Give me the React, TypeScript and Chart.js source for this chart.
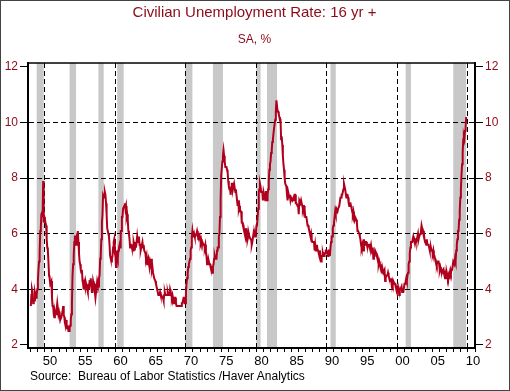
import React, { useEffect, useRef } from "react";
import { Chart, registerables } from "chart.js";

Chart.register(...registerables);

// Monthly civilian unemployment rate, 16 yr +, SA, % (Jan 1948 - Oct 2009)
const startYear = 1948;
const rate1940s = [
  3.4, 3.8, 4.0, 3.9, 3.5, 3.6, 3.6, 3.9, 3.8, 3.7, 3.8, 4.0,
  4.3, 4.7, 5.0, 5.3, 6.1, 6.2, 6.7, 6.8, 6.6, 7.9, 6.4, 6.6,
];
const rate1950s = [
  6.5, 6.4, 6.3, 5.8, 5.5, 5.4, 5.0, 4.5, 4.4, 4.2, 4.2, 4.3,
  3.7, 3.4, 3.4, 3.1, 3.0, 3.2, 3.1, 3.1, 3.3, 3.5, 3.5, 3.1,
  3.2, 3.1, 2.9, 2.9, 3.0, 3.0, 3.2, 3.4, 3.1, 3.0, 2.8, 2.7,
  2.9, 2.6, 2.6, 2.7, 2.5, 2.5, 2.6, 2.7, 2.9, 3.1, 3.5, 4.5,
  4.9, 5.2, 5.7, 5.9, 5.9, 5.6, 5.8, 6.0, 6.1, 5.7, 5.3, 5.0,
  4.9, 4.7, 4.6, 4.7, 4.3, 4.2, 4.0, 4.2, 4.1, 4.3, 4.2, 4.2,
  4.0, 3.9, 4.2, 4.0, 4.3, 4.3, 4.4, 4.1, 3.9, 3.9, 4.3, 4.2,
  4.2, 3.9, 3.7, 3.9, 4.1, 4.3, 4.2, 4.1, 4.4, 4.5, 5.1, 5.2,
  5.8, 6.4, 6.7, 7.4, 7.4, 7.3, 7.5, 7.4, 7.1, 6.7, 6.2, 6.2,
  6.0, 5.9, 5.6, 5.2, 5.1, 5.0, 5.1, 5.2, 5.5, 5.7, 5.8, 5.3,
];
const rate1960s = [
  5.2, 4.8, 5.4, 5.2, 5.1, 5.4, 5.5, 5.6, 5.5, 6.1, 6.1, 6.6,
  6.6, 6.9, 6.9, 7.0, 7.1, 6.9, 7.0, 6.6, 6.7, 6.5, 6.1, 6.0,
  5.8, 5.5, 5.6, 5.6, 5.5, 5.5, 5.4, 5.7, 5.6, 5.4, 5.7, 5.5,
  5.7, 5.9, 5.7, 5.7, 5.9, 5.6, 5.6, 5.4, 5.5, 5.5, 5.7, 5.5,
  5.6, 5.4, 5.4, 5.3, 5.1, 5.2, 4.9, 5.0, 5.1, 5.1, 4.8, 5.0,
  4.9, 5.1, 4.7, 4.8, 4.6, 4.6, 4.4, 4.4, 4.3, 4.2, 4.1, 4.0,
  4.0, 3.8, 3.8, 3.8, 3.9, 3.8, 3.8, 3.8, 3.7, 3.7, 3.6, 3.8,
  3.9, 3.8, 3.8, 3.8, 3.8, 3.9, 3.8, 3.8, 3.8, 4.0, 3.9, 3.8,
  3.7, 3.8, 3.7, 3.5, 3.5, 3.7, 3.7, 3.5, 3.4, 3.4, 3.4, 3.4,
  3.4, 3.4, 3.4, 3.4, 3.4, 3.5, 3.5, 3.5, 3.7, 3.7, 3.5, 3.5,
];
const rate1970s = [
  3.9, 4.2, 4.4, 4.6, 4.8, 4.9, 5.0, 5.1, 5.4, 5.5, 5.9, 6.1,
  5.9, 5.9, 6.0, 5.9, 5.9, 5.9, 6.0, 6.1, 6.0, 5.8, 6.0, 6.0,
  5.8, 5.7, 5.8, 5.7, 5.7, 5.7, 5.6, 5.6, 5.5, 5.6, 5.3, 5.2,
  4.9, 5.0, 4.9, 5.0, 4.9, 4.9, 4.8, 4.8, 4.8, 4.6, 4.8, 4.9,
  5.1, 5.2, 5.1, 5.1, 5.1, 5.4, 5.5, 5.5, 5.9, 6.0, 6.6, 7.2,
  8.1, 8.1, 8.6, 8.8, 9.0, 8.8, 8.6, 8.4, 8.4, 8.4, 8.3, 8.2,
  7.9, 7.7, 7.6, 7.7, 7.4, 7.6, 7.8, 7.8, 7.6, 7.7, 7.8, 7.8,
  7.5, 7.6, 7.4, 7.2, 7.0, 7.2, 6.9, 7.0, 6.8, 6.8, 6.8, 6.4,
  6.4, 6.3, 6.3, 6.1, 6.0, 5.9, 6.2, 5.9, 6.0, 5.8, 5.9, 6.0,
  5.9, 5.9, 5.8, 5.8, 5.6, 5.7, 5.7, 6.0, 5.9, 6.0, 5.9, 6.0,
];
const rate1980s = [
  6.3, 6.3, 6.3, 6.9, 7.5, 7.6, 7.8, 7.7, 7.5, 7.5, 7.5, 7.2,
  7.5, 7.4, 7.4, 7.2, 7.5, 7.5, 7.2, 7.4, 7.6, 7.9, 8.3, 8.5,
  8.6, 8.9, 9.0, 9.3, 9.4, 9.6, 9.8, 9.8, 10.1, 10.4, 10.8, 10.8,
  10.4, 10.4, 10.3, 10.2, 10.1, 10.1, 9.4, 9.5, 9.2, 8.8, 8.5, 8.3,
  8.0, 7.8, 7.8, 7.7, 7.4, 7.2, 7.5, 7.5, 7.3, 7.4, 7.2, 7.3,
  7.3, 7.2, 7.2, 7.3, 7.2, 7.4, 7.4, 7.1, 7.1, 7.1, 7.0, 7.0,
  6.7, 7.2, 7.2, 7.1, 7.2, 7.2, 7.0, 6.9, 7.0, 7.0, 6.9, 6.6,
  6.6, 6.6, 6.6, 6.3, 6.3, 6.2, 6.1, 6.0, 5.9, 6.0, 5.8, 5.7,
  5.7, 5.7, 5.7, 5.4, 5.6, 5.4, 5.4, 5.6, 5.4, 5.4, 5.3, 5.3,
  5.4, 5.2, 5.0, 5.2, 5.2, 5.3, 5.2, 5.2, 5.3, 5.3, 5.4, 5.4,
];
const rate1990s = [
  5.4, 5.3, 5.2, 5.4, 5.4, 5.2, 5.5, 5.7, 5.9, 5.9, 6.2, 6.3,
  6.4, 6.6, 6.8, 6.7, 6.9, 6.9, 6.8, 6.9, 6.9, 7.0, 7.0, 7.3,
  7.3, 7.4, 7.4, 7.4, 7.6, 7.8, 7.7, 7.6, 7.6, 7.3, 7.4, 7.4,
  7.3, 7.1, 7.0, 7.1, 7.1, 7.0, 6.9, 6.8, 6.7, 6.8, 6.6, 6.5,
  6.6, 6.6, 6.5, 6.4, 6.1, 6.1, 6.1, 6.0, 5.9, 5.8, 5.6, 5.5,
  5.6, 5.4, 5.4, 5.8, 5.6, 5.6, 5.7, 5.7, 5.6, 5.5, 5.6, 5.6,
  5.6, 5.5, 5.5, 5.6, 5.6, 5.3, 5.5, 5.1, 5.2, 5.2, 5.4, 5.4,
  5.3, 5.2, 5.2, 5.1, 4.9, 5.0, 4.9, 4.8, 4.9, 4.7, 4.6, 4.7,
  4.6, 4.6, 4.7, 4.3, 4.4, 4.5, 4.5, 4.5, 4.6, 4.5, 4.4, 4.4,
  4.3, 4.4, 4.2, 4.3, 4.2, 4.3, 4.3, 4.2, 4.2, 4.1, 4.1, 4.0,
];
const rate2000s = [
  4.0, 4.1, 4.0, 3.8, 4.0, 4.0, 4.0, 4.1, 3.9, 3.9, 3.9, 3.9,
  4.2, 4.2, 4.3, 4.4, 4.3, 4.5, 4.6, 4.9, 5.0, 5.3, 5.5, 5.7,
  5.7, 5.7, 5.7, 5.9, 5.8, 5.8, 5.8, 5.7, 5.7, 5.7, 5.9, 6.0,
  5.8, 5.9, 5.9, 6.0, 6.1, 6.3, 6.2, 6.1, 6.1, 6.0, 5.8, 5.7,
  5.7, 5.6, 5.8, 5.6, 5.6, 5.6, 5.5, 5.4, 5.4, 5.5, 5.4, 5.4,
  5.3, 5.4, 5.2, 5.2, 5.1, 5.0, 5.0, 4.9, 5.0, 5.0, 5.0, 4.9,
  4.7, 4.8, 4.7, 4.7, 4.6, 4.6, 4.7, 4.7, 4.5, 4.4, 4.5, 4.4,
  4.6, 4.5, 4.4, 4.5, 4.4, 4.6, 4.7, 4.6, 4.7, 4.7, 4.7, 5.0,
  5.0, 4.9, 5.1, 5.0, 5.4, 5.6, 5.8, 6.1, 6.1, 6.5, 6.8, 7.3,
  7.6, 8.1, 8.5, 8.9, 9.4, 9.5, 9.4, 9.7, 9.8, 10.2,
];

// NBER recessions: [year, month] start and (inclusive) end
const recessionStarts = [
  [1948, 11], [1953, 7], [1957, 8], [1960, 4], [1969, 12], [1973, 11],
  [1980, 1], [1981, 7], [1990, 7], [2001, 3], [2007, 12],
];
const recessionEnds = [
  [1949, 10], [1954, 5], [1958, 4], [1961, 2], [1970, 11], [1975, 3],
  [1980, 7], [1982, 11], [1991, 3], [2001, 11], [2009, 9],
];

const xLabelYears = [1950, 1955, 1960, 1965, 1970, 1975, 1980, 1985, 1990, 1995, 2000, 2005, 2010];
const xTickLabels = ["50", "55", "60", "65", "70", "75", "80", "85", "90", "95", "00", "05", "10"];
const yTicks = [2, 4, 6, 8, 10, 12];

const titleText = "Civilian Unemployment Rate: 16 yr +";
const subtitleText = "SA, %";
const sourceText = "Source:  Bureau of Labor Statistics /Haver Analytics";

const FONT = "'Liberation Sans', Arial, Helvetica, sans-serif";
const RED_TEXT = "#8c0a1a";
const LINE_RED = "#b0001e";

export default function App() {
  const canvasRef = useRef<HTMLCanvasElement | null>(null);

  useEffect(() => {
    if (!canvasRef.current) return;
    const all = [
      ...rate1940s, ...rate1950s, ...rate1960s, ...rate1970s,
      ...rate1980s, ...rate1990s, ...rate2000s,
    ];
    const points = all.map((v, i) => ({ x: startYear + i / 12, y: v }));

    const xMin = 1947.6;
    const xMax = 2011.0;
    const yMin = 1.89;
    const yMax = 12.14;

    const recessionPlugin = {
      id: "recessions",
      beforeDraw(chart: any) {
        const { ctx, chartArea, scales } = chart;
        const xs = scales.x;
        ctx.save();
        ctx.fillStyle = "#c8c8c8";
        for (let i = 0; i < recessionStarts.length; i++) {
          const s = recessionStarts[i][0] + (recessionStarts[i][1] - 1) / 12;
          const e = recessionEnds[i][0] + recessionEnds[i][1] / 12;
          const x1 = xs.getPixelForValue(s);
          const x2 = xs.getPixelForValue(e);
          ctx.fillRect(x1, chartArea.top, x2 - x1, chartArea.bottom - chartArea.top);
        }
        ctx.restore();
      },
      afterDraw(chart: any) {
        const { ctx, chartArea } = chart;
        ctx.save();
        ctx.strokeStyle = "#000";
        ctx.lineWidth = 1.5;
        ctx.beginPath();
        ctx.moveTo(chartArea.left, chartArea.top);
        ctx.lineTo(chartArea.right, chartArea.top);
        ctx.stroke();
        ctx.restore();
      },
    };

    const yAxisCommon = {
      type: "linear" as const,
      min: yMin,
      max: yMax,
      afterBuildTicks: (scale: any) => {
        scale.ticks = yTicks.map((v) => ({ value: v }));
      },
      ticks: {
        color: RED_TEXT,
        font: { family: FONT, size: 12 },
        padding: 2,
        callback: (v: any) => String(v),
      },
      border: { display: true, color: "#000", width: 2, dash: [5, 3] },
    };

    const chart = new Chart(canvasRef.current, {
      type: "line",
      data: {
        datasets: [
          {
            data: points,
            borderColor: LINE_RED,
            borderWidth: 2,
            pointRadius: 0,
            tension: 0,
          },
        ],
      },
      plugins: [recessionPlugin],
      options: {
        animation: false,
        responsive: false,
        layout: { padding: { left: 4, right: 5, top: 0, bottom: 18 } },
        plugins: {
          legend: { display: false },
          tooltip: { enabled: false },
          title: {
            display: true,
            text: titleText,
            color: RED_TEXT,
            font: { family: FONT, size: 15, weight: "normal" },
            padding: { top: 3.5, bottom: 6 },
          },
          subtitle: {
            display: true,
            text: subtitleText,
            color: RED_TEXT,
            font: { family: FONT, size: 12, weight: "normal" },
            padding: { top: 5.3, bottom: 15.8 },
          },
        },
        scales: {
          x: {
            type: "linear",
            min: xMin,
            max: xMax,
            afterBuildTicks: (scale: any) => {
              const t = [];
              for (let y = 1948; y <= 2011; y++) t.push({ value: y });
              scale.ticks = t;
            },
            afterFit: (scale: any) => {
              scale.height = 25;
            },
            ticks: {
              autoSkip: false,
              maxRotation: 0,
              minRotation: 0,
              color: "#000",
              font: { family: FONT, size: 13 },
              padding: 2,
              labelOffset: 5,
              callback: (v: any) => {
                const idx = xLabelYears.indexOf(Math.round(Number(v)));
                return idx >= 0 ? xTickLabels[idx] : "";
              },
            },
            grid: {
              color: (ctx: any) =>
                ctx.tick && ctx.tick.value % 10 === 0 ? "#000" : "rgba(0,0,0,0)",
              tickColor: "#000",
              tickLength: 4,
              lineWidth: 1,
            },
            border: { display: true, color: "#000", width: 2, dash: [5, 3] },
          },
          y: {
            ...yAxisCommon,
            position: "left",
            afterFit: (scale: any) => {
              scale.width = 24;
            },
            grid: {
              color: (ctx: any) =>
                ctx.tick && (ctx.tick.value === 2 || ctx.tick.value === 12)
                  ? "rgba(0,0,0,0)"
                  : "#000",
              tickColor: "#000",
              tickLength: 8,
              lineWidth: 1,
            },
          },
          y2: {
            ...yAxisCommon,
            position: "right",
            afterFit: (scale: any) => {
              scale.width = 30;
            },
            grid: {
              drawOnChartArea: false,
              color: "#000",
              tickColor: "#000",
              tickLength: 8,
              lineWidth: 1,
            },
          },
        },
      },
    } as any);

    return () => chart.destroy();
  }, []);

  return (
    <div
      style={{
        position: "absolute",
        left: 0,
        top: 0,
        width: 510,
        height: 391,
        background: "#fff",
      }}
    >
      <canvas ref={canvasRef} width={510} height={391} style={{ display: "block" }} />
      <div
        style={{
          position: "absolute",
          left: 30,
          top: 369,
          fontFamily: FONT,
          fontSize: 12,
          lineHeight: "14px",
          color: "#000",
          whiteSpace: "pre",
        }}
      >
        {sourceText}
      </div>
      <div
        style={{
          position: "absolute",
          left: 0,
          top: 0,
          width: 510,
          height: 391,
          boxSizing: "border-box",
          border: "1px solid #444",
          pointerEvents: "none",
        }}
      />
    </div>
  );
}
